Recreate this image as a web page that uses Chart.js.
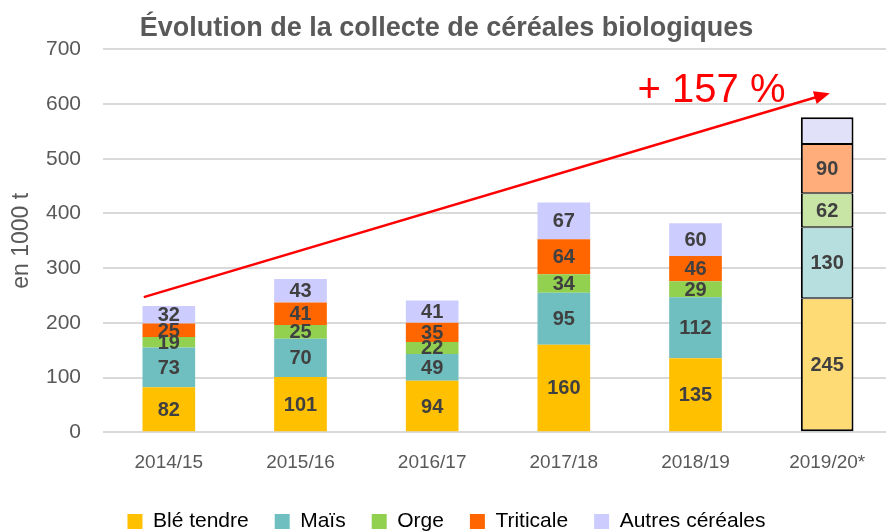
<!DOCTYPE html>
<html>
<head>
<meta charset="utf-8">
<script src="https://cdn.jsdelivr.net/npm/chart.js@4/dist/chart.umd.min.js"></script>
<style>
  html, body { margin: 0; padding: 0; background: #fff; overflow: hidden; }
  #wrap { width: 893px; height: 531px; }
</style>
</head>
<body>
<div id="wrap"><canvas id="chart-cereales"></canvas></div>
<script>
const years = ["2014/15", "2015/16", "2016/17", "2017/18", "2018/19", "2019/20*"];
const seriesNames = ["Blé tendre", "Maïs", "Orge", "Triticale", "Autres céréales"];
const bleTendre = [82, 101, 94, 160, 135, 245];
const mais = [73, 70, 49, 95, 112, 130];
const orge = [19, 25, 22, 34, 29, 62];
const triticale = [25, 41, 35, 64, 46, 90];
const autres = [32, 43, 41, 67, 60, 49];
const yTicks = [0, 100, 200, 300, 400, 500, 600, 700];
// trend arrow (category index, value) and its label
const arrowFrom = [-0.19, 247];
const arrowTo = [5.02, 620];
const arrowLabel = "+ 157 %";

const colors = ["#FFC000", "#70BFC0", "#92D050", "#FF6600", "#CCCCFF"];
const lightColors = ["#FFDB75", "#B7DFE0", "#C9E5A6", "#FFAD7B", "#E1E1FA"];
const FONT = "'Liberation Sans', Arial, sans-serif";
const GREY = "#595959";

document.addEventListener("DOMContentLoaded", main);

function main() {
  const values = [bleTendre, mais, orge, triticale, autres];
  const last = years.length - 1;
  const datasets = values.map((data, i) => ({
    label: seriesNames[i],
    data: data,
    backgroundColor: data.map((_, j) => (j === last ? lightColors[i] : colors[i])),
    borderColor: data.map((_, j) => (j === last ? "#000" : colors[i])),
    borderWidth: (c) =>
      c.dataIndex === last
        ? { left: 2, right: 2, top: i === 4 ? 2 : 1, bottom: i === 0 ? 2 : 1 }
        : 0,
    borderSkipped: false,
    barPercentage: 0.4,
    categoryPercentage: 1,
    hideLastLabel: i === 4,
  }));

  const segmentLabels = {
    id: "segmentLabels",
    afterDatasetsDraw(chart) {
      const ctx = chart.ctx;
      ctx.save();
      ctx.font = "bold 20px " + FONT;
      ctx.fillStyle = "#404040";
      ctx.textAlign = "center";
      ctx.textBaseline = "middle";
      chart.data.datasets.forEach((ds, di) => {
        chart.getDatasetMeta(di).data.forEach((bar, j) => {
          if (ds.hideLastLabel && j === last) return;
          const mid = (bar.y + bar.base) / 2;
          ctx.fillText(String(ds.data[j]), bar.x, mid + 1);
        });
      });
      ctx.restore();
    },
  };

  const trendArrow = {
    id: "trendArrow",
    afterDraw(chart) {
      const x = chart.scales.x, y = chart.scales.y;
      const step = x.getPixelForValue(1) - x.getPixelForValue(0);
      const px = (i) => x.getPixelForValue(0) + i * step;
      const x1 = px(arrowFrom[0]), y1 = y.getPixelForValue(arrowFrom[1]);
      const x2 = px(arrowTo[0]), y2 = y.getPixelForValue(arrowTo[1]);
      const ctx = chart.ctx;
      const ang = Math.atan2(y2 - y1, x2 - x1);
      const head = 17;
      ctx.save();
      ctx.strokeStyle = "#FF0000";
      ctx.fillStyle = "#FF0000";
      ctx.lineWidth = 2.5;
      ctx.beginPath();
      ctx.moveTo(x1, y1);
      ctx.lineTo(x2 - head * 0.8 * Math.cos(ang), y2 - head * 0.8 * Math.sin(ang));
      ctx.stroke();
      ctx.beginPath();
      ctx.moveTo(x2, y2);
      ctx.lineTo(x2 - head * Math.cos(ang - 0.4), y2 - head * Math.sin(ang - 0.4));
      ctx.lineTo(x2 - head * Math.cos(ang + 0.4), y2 - head * Math.sin(ang + 0.4));
      ctx.closePath();
      ctx.fill();
      ctx.font = "40px " + FONT;
      ctx.textAlign = "left";
      ctx.textBaseline = "middle";
      ctx.fillText(arrowLabel, px(3.56), y.getPixelForValue(624));
      ctx.restore();
    },
  };

  new Chart(document.getElementById("chart-cereales"), {
    type: "bar",
    data: { labels: years, datasets: datasets },
    plugins: [segmentLabels, trendArrow],
    options: {
      responsive: true,
      maintainAspectRatio: false,
      animation: false,
      layout: { padding: { left: 0, right: 0, top: 2, bottom: -11 } },
      scales: {
        x: {
          stacked: true,
          grid: { display: false },
          border: { display: false },
          ticks: { color: GREY, font: { family: FONT, size: 19 }, padding: 11 },
        },
        y: {
          stacked: true,
          min: 0,
          max: 700,
          afterBuildTicks: (s) => { s.ticks = yTicks.map((v) => ({ value: v })); },
          afterFit: (s) => { s.width = 103; },
          grid: { color: "#D9D9D9", lineWidth: 2, drawTicks: false },
          border: { display: false },
          ticks: { color: GREY, font: { family: FONT, size: 21 }, padding: 22 },
          title: {
            display: true,
            text: "en 1000 t",
            color: GREY,
            font: { family: FONT, size: 23 },
            padding: { top: 8, bottom: 4 },
          },
        },
      },
      plugins: {
        title: {
          display: true,
          text: "Évolution de la collecte de céréales biologiques",
          color: GREY,
          font: { family: FONT, size: 27, weight: "bold" },
          padding: { top: 10, bottom: 5 },
        },
        legend: {
          position: "bottom",
          labels: {
            color: GREY,
            font: { family: FONT, size: 21 },
            boxWidth: 15,
            boxHeight: 15,
            padding: 26,
            generateLabels: (chart) =>
              seriesNames.map((name, i) => ({
                text: name,
                fillStyle: colors[i],
                strokeStyle: colors[i],
                lineWidth: 0,
                datasetIndex: i,
              })),
          },
        },
        tooltip: { enabled: false },
      },
    },
  });
}
</script>
</body>
</html>
